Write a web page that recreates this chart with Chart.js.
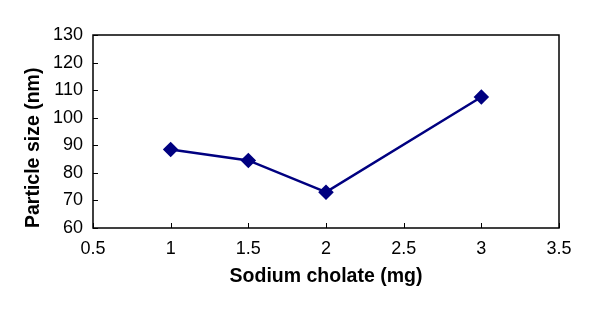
<!DOCTYPE html>
<html>
<head>
<meta charset="utf-8">
<script src="https://cdn.jsdelivr.net/npm/chart.js@4.4.1/dist/chart.umd.min.js"></script>
<style>
  html, body { margin: 0; padding: 0; background: #fff; }
  #wrap { width: 591px; height: 313px; }
</style>
</head>
<body>
<div id="wrap"><canvas id="chart" width="591" height="313"></canvas></div>
<script>
const cholate = [1, 1.5, 2, 3];
const particleSize = [88.5, 84.5, 73, 107.5];
const xTicks = [0.5, 1, 1.5, 2, 2.5, 3, 3.5];
const yTicks = [60, 70, 80, 90, 100, 110, 120, 130];

const navy = '#000080';

// small inward tick marks, like the original plot
const innerTicks = {
    id: 'innerTicks',
    afterDraw(chart) {
        const ctx = chart.ctx;
        const area = chart.chartArea;
        const x = chart.scales.x;
        const y = chart.scales.y;
        ctx.save();
        ctx.strokeStyle = '#000';
        ctx.lineWidth = 1;
        ctx.beginPath();
        x.ticks.forEach(t => {
            const px = Math.round(x.getPixelForValue(t.value)) + 0.5;
            ctx.moveTo(px, area.bottom);
            ctx.lineTo(px, area.bottom - 5);
        });
        y.ticks.forEach(t => {
            const py = Math.round(y.getPixelForValue(t.value)) + 0.5;
            ctx.moveTo(area.left, py);
            ctx.lineTo(area.left + 5, py);
        });
        ctx.stroke();
        ctx.lineWidth = 1.5;
        ctx.strokeRect(area.left, area.top, area.right - area.left, area.bottom - area.top);
        ctx.restore();
    }
};

new Chart(document.getElementById('chart').getContext('2d'), {
    type: 'scatter',
    data: {
        datasets: [{
            data: cholate.map((c, i) => ({x: c, y: particleSize[i]})),
            showLine: true,
            borderColor: navy,
            backgroundColor: navy,
            borderWidth: 2.5,
            pointStyle: 'rectRot',
            pointRadius: 6,
            pointHoverRadius: 6,
            tension: 0
        }]
    },
    options: {
        responsive: false,
        animation: false,
        layout: {padding: {top: 35, right: 32, left: 22, bottom: 25}},
        plugins: {legend: {display: false}, tooltip: {enabled: false}},
        scales: {
            x: {
                type: 'linear',
                min: 0.5,
                max: 3.5,
                afterBuildTicks: s => { s.ticks = xTicks.map(v => ({value: v})); },
                afterFit: s => { s.height = 60; },
                grid: {drawOnChartArea: false, drawTicks: false},
                border: {display: false},
                ticks: {
                    color: '#000',
                    padding: 10,
                    font: {family: 'Liberation Sans, Arial', size: 18},
                    callback: v => String(v)
                },
                title: {
                    display: true,
                    text: 'Sodium cholate (mg)',
                    color: '#000',
                    padding: {top: 0, bottom: 0},
                    font: {family: 'Liberation Sans, Arial', size: 19.5, weight: 'bold'}
                }
            },
            y: {
                min: 60,
                max: 130,
                afterBuildTicks: s => { s.ticks = yTicks.map(v => ({value: v})); },
                afterFit: s => { s.width = 71; },
                grid: {drawOnChartArea: false, drawTicks: false},
                border: {display: false},
                ticks: {
                    color: '#000',
                    padding: 10,
                    font: {family: 'Liberation Sans, Arial', size: 18}
                },
                title: {
                    display: true,
                    text: 'Particle size (nm)',
                    color: '#000',
                    align: 'start',
                    padding: {top: 0, bottom: 0},
                    font: {family: 'Liberation Sans, Arial', size: 19.5, weight: 'bold'}
                }
            }
        }
    },
    plugins: [innerTicks]
});
</script>
</body>
</html>
